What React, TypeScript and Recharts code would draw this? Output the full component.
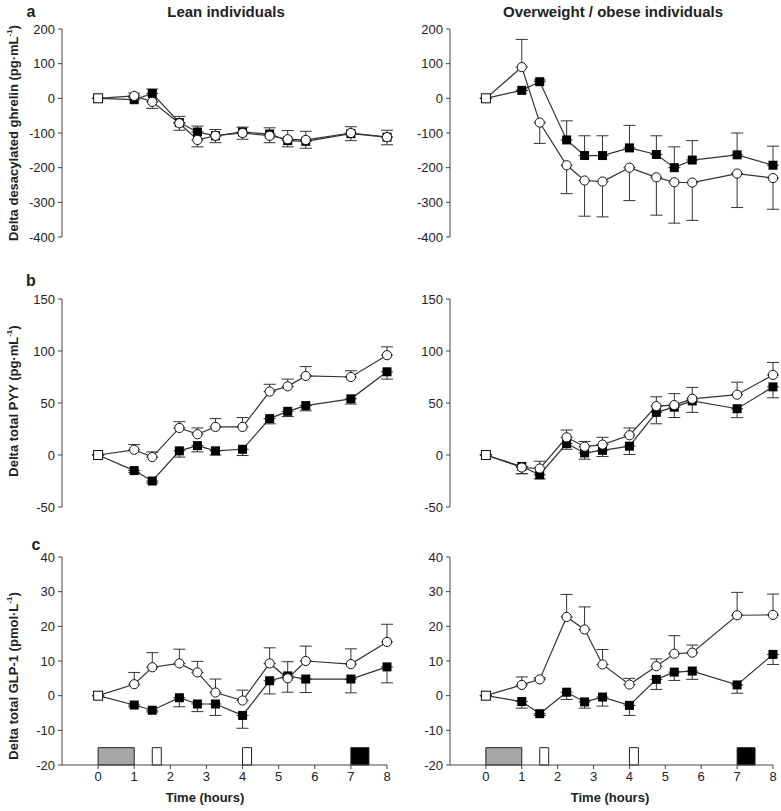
import React from "react";
import {
  ErrorBar,
  Line,
  LineChart,
  ReferenceArea,
  XAxis,
  YAxis,
} from "recharts";

// sampling times (hours)
const times = [0, 1, 1.5, 2.25, 2.75, 3.25, 4, 4.75, 5.25, 5.75, 7, 8];
const xTicks = [0, 1, 2, 3, 4, 5, 6, 7, 8];

// a: desacylated ghrelin
const ghrelinTicks = [-400, -300, -200, -100, 0, 100, 200];
const leanGhrelinOpen = [0, 7, -10, -72, -120, -108, -100, -108, -118, -120, -100, -112];
const leanGhrelinOpenLo = [0, 0, 19, 20, 20, 20, 18, 20, 0, 0, 22, 22];
const leanGhrelinOpenHi = [0, 8, 0, 0, 0, 0, 0, 0, 25, 25, 0, 0];
const leanGhrelinFilled = [0, -4, 14, -70, -97, -108, -97, -103, -122, -124, -102, -112];
const leanGhrelinFilledLo = [0, 0, 0, 0, 0, 0, 0, 0, 18, 20, 0, 0];
const leanGhrelinFilledHi = [0, 6, 13, 18, 17, 18, 14, 18, 0, 0, 20, 20];

const obeseGhrelinOpen = [0, 90, -70, -193, -237, -240, -200, -228, -242, -243, -217, -230];
const obeseGhrelinOpenLo = [0, 0, 60, 82, 103, 102, 95, 109, 118, 109, 98, 90];
const obeseGhrelinOpenHi = [0, 80, 0, 0, 0, 0, 0, 0, 0, 0, 0, 0];
const obeseGhrelinFilled = [0, 23, 48, -120, -165, -165, -143, -162, -200, -178, -163, -193];
const obeseGhrelinFilledLo = [0, 0, 0, 0, 0, 0, 0, 0, 0, 0, 0, 0];
const obeseGhrelinFilledHi = [0, 0, 5, 55, 57, 57, 65, 54, 60, 56, 63, 55];

// b: total PYY
const pyyTicks = [-50, 0, 50, 100, 150];
const leanPyyOpen = [0, 5, -2, 26, 20, 27, 27, 61, 66, 76, 75, 96];
const leanPyyOpenLo = [0, 0, 0, 0, 0, 0, 0, 0, 0, 0, 0, 0];
const leanPyyOpenHi = [0, 5, 5, 6, 6, 8, 9, 7, 7, 9, 6, 8];
const leanPyyFilled = [0, -15, -25, 4, 9, 4, 5.5, 35, 42, 47.5, 54, 80];
const leanPyyFilledLo = [0, 2, 2, 6, 6, 4, 6, 5, 5, 5, 5, 7];
const leanPyyFilledHi = [0, 0, 0, 0, 0, 0, 0, 0, 0, 0, 0, 0];

const obesePyyOpen = [0, -12, -13, 17, 8, 10, 19, 47, 48, 54, 58, 77];
const obesePyyOpenLo = [0, 6, 0, 0, 0, 0, 0, 0, 0, 0, 0, 0];
const obesePyyOpenHi = [0, 0, 7, 7, 5, 7, 7, 9, 11, 11, 12, 12];
const obesePyyFilled = [0, -11, -19, 11, 2, 4.5, 8.5, 41, 46, 52, 44.5, 65.5];
const obesePyyFilledLo = [0, 7, 4, 5.5, 6, 6, 8, 11, 10, 11, 8.6, 10.5];
const obesePyyFilledHi = [0, 0, 0, 0, 0, 0, 0, 0, 0, 0, 0, 0];

// c: total GLP-1
const glpTicks = [-20, -10, 0, 10, 20, 30, 40];
const leanGlpOpen = [0, 3.3, 8.2, 9.3, 6.7, 0.9, -1.4, 9.3, 5, 10, 9.1, 15.5];
const leanGlpOpenLo = [0, 0, 0, 0, 0, 0, 0, 0, 4, 0, 0, 0];
const leanGlpOpenHi = [0, 3.4, 4.2, 4.1, 3.2, 3.9, 3, 4.5, 0, 4.3, 4.4, 5.1];
const leanGlpFilled = [0, -2.7, -4.2, -0.6, -2.4, -2.4, -5.7, 4.3, 5.7, 4.8, 4.8, 8.3];
const leanGlpFilledLo = [0, 0.5, 0.5, 2.6, 2.2, 3.3, 3.7, 3.8, 0, 3.9, 4, 4.6];
const leanGlpFilledHi = [0, 0, 0, 0, 0, 0, 0, 0, 4.1, 0, 0, 0];

const obeseGlpOpen = [0, 3.1, 4.7, 22.7, 19.1, 9, 3.2, 8.5, 12.1, 12.4, 23.2, 23.3];
const obeseGlpOpenLo = [0, 0, 0, 0, 0, 0, 0, 0, 0, 0, 0, 0];
const obeseGlpOpenHi = [0, 2.3, 0.5, 6.5, 6.5, 4.3, 1.8, 2.1, 5.2, 2.2, 6.6, 6];
const obeseGlpFilled = [0, -1.7, -5.2, 1, -1.8, -0.4, -2.8, 4.7, 6.8, 7.1, 3.1, 11.9];
const obeseGlpFilledLo = [0, 1.9, 0.5, 2.1, 1.8, 2.6, 2.9, 2.9, 2.4, 2.4, 2.4, 2.9];
const obeseGlpFilledHi = [0, 0, 0, 0, 0, 0, 0, 0, 0, 0, 0, 0];

// meal / snack markers along the time axis: [start, end, fill]
const meals: [number, number, string][] = [
  [0, 1, "#a6a6a6"],
  [1.5, 1.75, "#ffffff"],
  [4, 4.25, "#ffffff"],
  [7, 7.5, "#000000"],
];

const FONT = "'Liberation Sans', Arial, sans-serif";
const AXIS = "#444";
const INK = "#333";

function build(
  open: number[],
  openLo: number[],
  openHi: number[],
  filled: number[],
  filledLo: number[],
  filledHi: number[]
) {
  return times.map((t, i) => ({
    t,
    open: open[i],
    openErr: [openLo[i], openHi[i]],
    filled: filled[i],
    filledErr: [filledLo[i], filledHi[i]],
  }));
}

function OpenDot(props: any) {
  const { cx, cy, index } = props;
  if (cx == null || cy == null) return null;
  if (index === 0) {
    return <rect x={cx - 4.5} y={cy - 4.5} width={9} height={9} fill="#fff" stroke="#111" strokeWidth={1} />;
  }
  return <circle cx={cx} cy={cy} r={4.6} fill="#fff" stroke="#111" strokeWidth={1} />;
}

function FilledDot(props: any) {
  const { cx, cy } = props;
  if (cx == null || cy == null) return null;
  return <rect x={cx - 4.5} y={cy - 4.5} width={9} height={9} fill="#000" />;
}

type PanelProps = {
  data: ReturnType<typeof build>;
  ticks: number[];
  left: number;
  top: number;
  width: number;
  marginLeft: number;
  marginRight: number;
  showX?: boolean;
};

function Panel({ data, ticks, left, top, width, marginLeft, marginRight, showX = false }: PanelProps) {
  const plotH = 208;
  const height = showX ? 9 + plotH + 22 : 9 + plotH + 12;
  return (
    <div style={{ position: "absolute", left, top }}>
      <LineChart
        width={width}
        height={height}
        data={data}
        margin={{ top: 9, right: marginRight, bottom: showX ? 0 : 12, left: marginLeft }}
      >
        <XAxis
          type="number"
          dataKey="t"
          domain={[-1, 8]}
          ticks={xTicks}
          hide={!showX}
          height={22}
          stroke={AXIS}
          tickSize={4}
          tickMargin={3}
          tick={{ fill: "#222", fontSize: 13, fontFamily: FONT }}
        />
        <YAxis
          type="number"
          domain={[ticks[0], ticks[ticks.length - 1]]}
          ticks={ticks}
          width={40}
          stroke={AXIS}
          tickSize={4}
          tickMargin={3}
          interval={0}
          tick={{ fill: "#222", fontSize: 13, fontFamily: FONT }}
        />
        {showX &&
          meals.map(([x1, x2, fill]) => (
            <ReferenceArea
              key={x1}
              x1={x1}
              x2={x2}
              y1={ticks[0]}
              y2={ticks[0] + 5}
              fill={fill}
              fillOpacity={1}
              stroke="#222"
              strokeWidth={1}
            />
          ))}
        <Line
          dataKey="filled"
          stroke={INK}
          strokeWidth={1.2}
          dot={<FilledDot />}
          activeDot={false}
          isAnimationActive={false}
        >
          <ErrorBar dataKey="filledErr" width={6} stroke={INK} strokeWidth={1} direction="y" />
        </Line>
        <Line
          dataKey="open"
          stroke={INK}
          strokeWidth={1.2}
          dot={<OpenDot />}
          activeDot={false}
          isAnimationActive={false}
        >
          <ErrorBar dataKey="openErr" width={6} stroke={INK} strokeWidth={1} direction="y" />
        </Line>
      </LineChart>
    </div>
  );
}

function YTitle({ x, y, children }: { x: number; y: number; children: React.ReactNode }) {
  return (
    <div
      style={{
        position: "absolute",
        left: x,
        top: y,
        transform: "translate(-50%, -50%) rotate(-90deg)",
        whiteSpace: "nowrap",
        fontFamily: FONT,
        fontWeight: 700,
        fontSize: 13,
        color: "#222",
      }}
    >
      {children}
    </div>
  );
}

function Text({ x, y, size, children }: { x: number; y: number; size: number; children: React.ReactNode }) {
  return (
    <div
      style={{
        position: "absolute",
        left: x,
        top: y,
        transform: "translate(-50%, -50%)",
        whiteSpace: "nowrap",
        fontFamily: FONT,
        fontWeight: 700,
        fontSize: size,
        color: "#222",
      }}
    >
      {children}
    </div>
  );
}

const sup = { fontSize: 8, verticalAlign: "super" as const, lineHeight: 0 };

export default function App() {
  const L = { left: 0, width: 400, marginLeft: 22, marginRight: 13 };
  const R = { left: 390, width: 391, marginLeft: 20, marginRight: 8 };
  return (
    <div style={{ position: "absolute", left: 0, top: 0, width: 781, height: 811, background: "#fff" }}>
      <Text x={226} y={11} size={15}>Lean individuals</Text>
      <Text x={613} y={11} size={15}>Overweight / obese individuals</Text>
      <Text x={31} y={12} size={16}>a</Text>
      <Text x={31} y={281} size={16}>b</Text>
      <Text x={36} y={545} size={16}>c</Text>

      <Panel
        data={build(leanGhrelinOpen, leanGhrelinOpenLo, leanGhrelinOpenHi, leanGhrelinFilled, leanGhrelinFilledLo, leanGhrelinFilledHi)}
        ticks={ghrelinTicks}
        top={20}
        {...L}
      />
      <Panel
        data={build(obeseGhrelinOpen, obeseGhrelinOpenLo, obeseGhrelinOpenHi, obeseGhrelinFilled, obeseGhrelinFilledLo, obeseGhrelinFilledHi)}
        ticks={ghrelinTicks}
        top={20}
        {...R}
      />
      <Panel
        data={build(leanPyyOpen, leanPyyOpenLo, leanPyyOpenHi, leanPyyFilled, leanPyyFilledLo, leanPyyFilledHi)}
        ticks={pyyTicks}
        top={290}
        {...L}
      />
      <Panel
        data={build(obesePyyOpen, obesePyyOpenLo, obesePyyOpenHi, obesePyyFilled, obesePyyFilledLo, obesePyyFilledHi)}
        ticks={pyyTicks}
        top={290}
        {...R}
      />
      <Panel
        data={build(leanGlpOpen, leanGlpOpenLo, leanGlpOpenHi, leanGlpFilled, leanGlpFilledLo, leanGlpFilledHi)}
        ticks={glpTicks}
        top={548}
        showX
        {...L}
      />
      <Panel
        data={build(obeseGlpOpen, obeseGlpOpenLo, obeseGlpOpenHi, obeseGlpFilled, obeseGlpFilledLo, obeseGlpFilledHi)}
        ticks={glpTicks}
        top={548}
        showX
        {...R}
      />

      <YTitle x={13} y={133}>
        Delta desacylated ghrelin (pg·mL<span style={sup}>-1</span>)
      </YTitle>
      <YTitle x={13} y={401}>
        Delta total PYY (pg·mL<span style={sup}>-1</span>)
      </YTitle>
      <YTitle x={13} y={676}>
        Delta total GLP-1 (pmol·L<span style={sup}>-1</span>)
      </YTitle>

      <Text x={205} y={797} size={13}>Time (hours)</Text>
      <Text x={610} y={797} size={13}>Time (hours)</Text>
    </div>
  );
}
